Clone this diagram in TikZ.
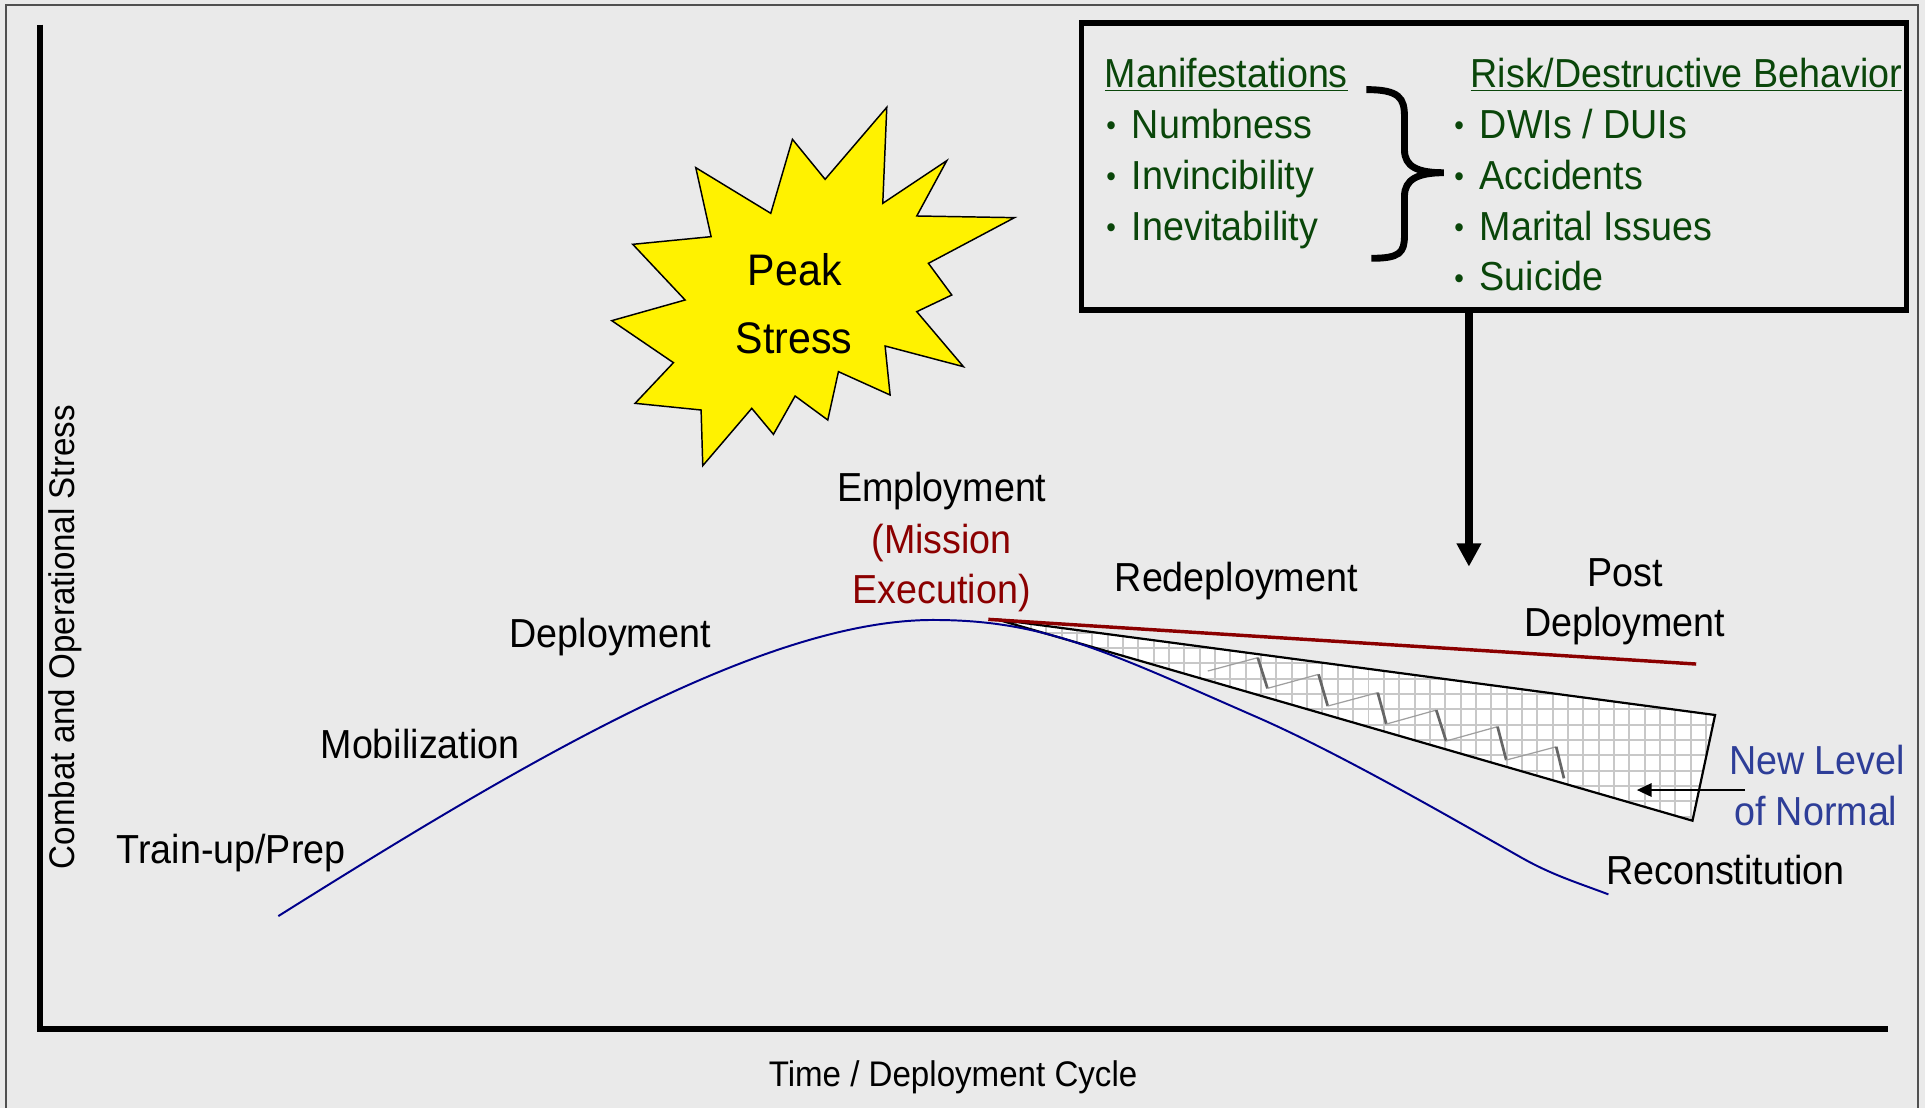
\documentclass[tikz,border=0pt]{standalone}
\usepackage{fontspec}
\setmainfont{Liberation Sans}[FakeStretch=0.93]
\usetikzlibrary{arrows.meta}
\definecolor{bgc}{RGB}{234,234,234}
\definecolor{navyc}{RGB}{0,0,139}
\definecolor{darkredc}{RGB}{139,0,0}
\definecolor{greenc}{RGB}{10,70,10}
\definecolor{bluetxt}{RGB}{46,62,152}
\definecolor{gridc}{RGB}{200,200,200}
\definecolor{borderc}{RGB}{80,80,80}
\newcommand{\mybul}{\makebox[11pt][l]{\hspace{0.6pt}\raisebox{1.2pt}{\fontsize{12}{12}\selectfont •}}}
\begin{document}
\begin{tikzpicture}[x=0.5pt,y=-0.5pt,
  lbl/.style={font=\fontsize{16.5}{20}\selectfont, inner sep=0pt, anchor=base},
  peaktxt/.style={font=\fontsize{18}{22}\selectfont, inner sep=0pt, anchor=base},
  boxtxt/.style={font=\fontsize{16.5}{20}\selectfont, inner sep=0pt, anchor=base west, text=greenc},
  axlbl/.style={font=\fontsize{14.5}{17}\selectfont, inner sep=0pt, anchor=base},
  axisline/.style={line width=2.4pt},
  thickbox/.style={draw=black, line width=2.2pt, fill=bgc, inner sep=0pt},
  wedgeline/.style={line width=0.9pt, black},
  zigup/.style={line width=0.5pt, draw=gray!75},
  zigdown/.style={line width=1.1pt, draw=black!60},
  ]
% background and page
\fill[bgc] (0,0) rectangle (1568,902.5);
\useasboundingbox (0,0) rectangle (1568,902.5);
\draw[borderc, line width=0.8pt] (5,910) -- (5,4) -- (1562.5,4) -- (1562.5,910);

% axes
\coordinate (origin) at (32.3,838);
\coordinate (ytop) at (32.3,20);
\coordinate (xend) at (1538,838);
\draw[axisline] (ytop) -- (32.3,840.4);
\draw[axisline] (30,838) -- (xend);

\node[axlbl, rotate=90] (ylabel) at (61,519) {Combat and Operational Stress};
\node[axlbl] (xlabel) at (776.3,885.2) {Time / Deployment Cycle};

% hatched wedge
\coordinate (wapex) at (811.9,504.5);
\coordinate (wtop) at (1397,582.4);
\coordinate (wbot) at (1378.6,668.5);
\fill[white] (wapex) -- (wtop) -- (wbot) -- cycle;
\begin{scope}
  \clip (wapex) -- (wtop) -- (wbot) -- cycle;
  \foreach \i in {-15,...,33} {
    \draw[gridc, line width=0.8pt] ({989.7+12.5*\i},480) -- ({989.7+12.5*\i},690);
  }
  \foreach \j in {-5,...,12} {
    \draw[gridc, line width=0.8pt] (790,{540.3+12.5*\j}) -- (1410,{540.3+12.5*\j});
  }
\end{scope}
% zigzag
\draw[zigup] (983.8,546.6) -- (1024.5,535.7);
\draw[zigdown] (1024.5,535.7) -- (1032.4,560.7);
\draw[zigup] (1032.4,560.7) -- (1074.0,549.3);
\draw[zigdown] (1074.0,549.3) -- (1081.5,575.1);
\draw[zigup] (1081.5,575.1) -- (1122.2,564.2);
\draw[zigdown] (1122.2,564.2) -- (1129.2,589.8);
\draw[zigup] (1129.2,589.8) -- (1169.9,578.4);
\draw[zigdown] (1169.9,578.4) -- (1177.9,603.6);
\draw[zigup] (1177.9,603.6) -- (1219.8,591.9);
\draw[zigdown] (1219.8,591.9) -- (1226.9,619.1);
\draw[zigup] (1226.9,619.1) -- (1267.6,608.3);
\draw[zigdown] (1267.6,608.3) -- (1273.9,634.0);
\draw[wedgeline, line join=miter] (wapex) -- (wtop) -- (wbot) -- cycle;

% main curve
\coordinate (cstart) at (226.7,746.2);
\coordinate (cpeak) at (760,505);
\coordinate (cend) at (1310.1,728.5);
\draw[navyc, line width=0.8pt] (cstart)
  .. controls (420,625) and (620,505) .. (cpeak)
  .. controls (850,505) and (900,530) .. (1023,583.8)
  .. controls (1090,613) and (1180,665) .. (1240,699)
  .. controls (1265,713) and (1285,719) .. (cend);

% red line
\coordinate (rstart) at (805,504.5);
\coordinate (rend) at (1381.6,540.9);
\draw[darkredc, line width=1.4pt] (rstart) -- (rend);

% starburst
\begin{scope}[shift={(488.8,73.3)}, scale=0.27153]
\filldraw[fill=yellow, draw=black, line width=0.6pt, line join=miter]
  (860,52) -- (848,340) -- (1040,212) -- (950,378) -- (1243,383) -- (985,520)
  -- (1055,615) -- (950,665) -- (1090,830) -- (855,768) -- (870,915) -- (715,845)
  -- (683,990) -- (585,918) -- (520,1033) -- (455,955) -- (308,1127) -- (303,960)
  -- (105,940) -- (220,818) -- (35,692) -- (255,630) -- (98,463) -- (333,440)
  -- (287,233) -- (512,370) -- (577,148) -- (675,268) -- cycle;
\end{scope}
\node[peaktxt] (peak) at (647.4,232.2) {Peak};
\node[peaktxt] (stress) at (646.7,287.8) {Stress};

% phase labels
\node[lbl] (trainup) at (188.2,703.3) {Train-up/Prep};
\node[lbl] (mobil) at (342.2,617.7) {Mobilization};
\node[lbl] (deploy) at (497,527.5) {Deployment};
\node[lbl] (employ) at (767.1,408.7) {Employment};
\node[lbl, text=darkredc] (mission) at (767,450.7) {(Mission};
\node[lbl, text=darkredc] (execution) at (767,491.5) {Execution)};
\node[lbl] (redeploy) at (1007,482) {Redeployment};
\node[lbl] (post) at (1323.5,477.5) {Post};
\node[lbl] (postdeploy) at (1323.5,518.6) {Deployment};
\node[lbl] (recon) at (1405.5,720.4) {Reconstitution};
\node[lbl, text=bluetxt] (newlevel) at (1480,630.5) {New Level};
\node[lbl, text=bluetxt] (ofnormal) at (1479,672) {of Normal};

% arrow to new level
\coordinate (nlstart) at (1421.5,643.5);
\coordinate (nlend) at (1333.3,643.5);
\draw[line width=0.7pt, -{Triangle[width=5.5pt,length=6pt]}] (nlstart) -- (nlend);

% risk box
\node[thickbox, minimum width=335.85pt, minimum height=116.9pt] (riskbox) at (1216.85,135.6) {};
\node[boxtxt] (manif) at (899.6,71) {\underline{Manifestations}};
\node[boxtxt] (numb) at (899.6,112.5) {\mybul Numbness};
\node[boxtxt] (invinc) at (899.6,154) {\mybul Invincibility};
\node[boxtxt] (inevit) at (899.6,195.5) {\mybul Inevitability};
\node[boxtxt] (riskhead) at (1197.5,71) {\underline{Risk/Destructive Behavior}};
\node[boxtxt] (dwi) at (1183,112.5) {\mybul DWIs / DUIs};
\node[boxtxt] (accid) at (1183,154) {\mybul Accidents};
\node[boxtxt] (marital) at (1183,195.5) {\mybul Marital Issues};
\node[boxtxt] (suicide) at (1183,237) {\mybul Suicide};

% brace
\draw[line width=2.8pt, line cap=butt]
  (1113,73) .. controls (1140,73) and (1144,80) .. (1144,95) -- (1144,122)
  .. controls (1144,136) and (1155,140.7) .. (1176,140.7)
  .. controls (1155,140.7) and (1144,146) .. (1144,160) -- (1144,192)
  .. controls (1144,206) and (1140,210.4) .. (1117,210.4);

% arrow from box
\coordinate (boxtip) at (1196.5,461.6);
\draw[line width=3pt, -{Triangle[width=9.5pt,length=9.5pt]}] (riskbox.south -| boxtip) -- (boxtip);
\end{tikzpicture}
\end{document}
